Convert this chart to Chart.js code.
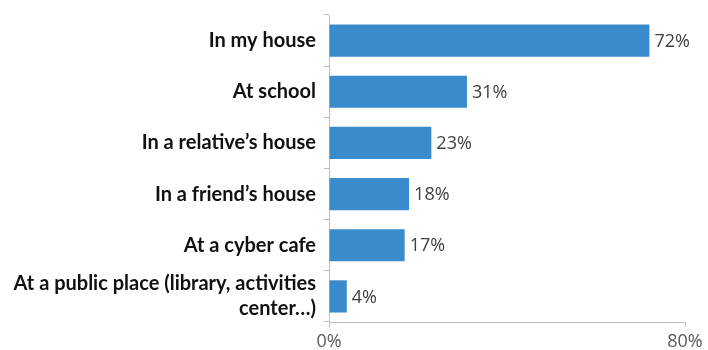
<!DOCTYPE html>
<html>
<head>
<meta charset="utf-8">
<script src="https://cdn.jsdelivr.net/npm/chart.js@4"></script>
<style>
  html, body { margin: 0; padding: 0; background: #ffffff; }
  #wrap { width: 708px; height: 350px; position: relative; }
</style>
</head>
<body>
<div id="wrap"><canvas id="c" width="708" height="350"></canvas></div>
<script>
// Where people use the internet (share of respondents)
const places = [
  'In my house',
  'At school',
  'In a relative\u2019s house',
  'In a friend\u2019s house',
  'At a cyber cafe',
  ['At a public place (library, activities', 'center\u2026)']
];
const shares = [72, 31, 23, 18, 17, 4];
const axisTicks = [0, 80];

const barColor = '#3a8bcc';
const axisColor = '#bfbfbf';
const valueFont = '"Open Sans", sans-serif';

// Writes "NN%" just past the end of each bar
const valueLabels = {
  id: 'valueLabels',
  afterDatasetsDraw(chart) {
    const ctx = chart.ctx;
    const meta = chart.getDatasetMeta(0);
    ctx.save();
    ctx.font = '18px ' + valueFont;
    ctx.fillStyle = '#404040';
    ctx.textAlign = 'left';
    ctx.textBaseline = 'middle';
    meta.data.forEach((bar, i) => {
      ctx.fillText(shares[i] + '%', bar.x + 5, bar.y + 1);
    });
    ctx.restore();
  }
};

new Chart(document.getElementById('c'), {
  type: 'bar',
  data: {
    labels: places,
    datasets: [{
      data: shares,
      backgroundColor: barColor,
      borderWidth: 0,
      categoryPercentage: 0.63,
      barPercentage: 1.0
    }]
  },
  options: {
    indexAxis: 'y',
    responsive: false,
    animation: false,
    layout: { padding: { top: 15, right: 23, left: 0, bottom: 0 } },
    plugins: {
      legend: { display: false },
      tooltip: { enabled: false }
    },
    scales: {
      x: {
        min: axisTicks[0],
        max: axisTicks[axisTicks.length - 1],
        afterBuildTicks(scale) {
          scale.ticks = axisTicks.map(v => ({ value: v }));
        },
        afterFit(scale) {
          scale.height = 28;
          scale.paddingLeft = 0;
          scale.paddingRight = 0;
        },
        border: { display: true, color: axisColor, width: 1 },
        grid: {
          drawOnChartArea: false,
          drawTicks: true,
          tickLength: 5,
          color: axisColor
        },
        ticks: {
          padding: 4,
          color: '#595959',
          font: { family: valueFont, size: 18 },
          callback: v => v + '%'
        }
      },
      y: {
        afterFit(scale) {
          scale.width = 329;
          scale.paddingTop = 0;
          scale.paddingBottom = 0;
        },
        border: { display: true, color: axisColor, width: 1 },
        grid: {
          drawOnChartArea: false,
          drawTicks: true,
          tickLength: 5,
          color: axisColor,
          offset: true
        },
        ticks: {
          autoSkip: false,
          padding: 8,
          color: '#111111',
          font: { family: 'Lato, sans-serif', size: 20, weight: 'bold', lineHeight: 1.25 }
        }
      }
    }
  },
  plugins: [valueLabels]
});
</script>
</body>
</html>
